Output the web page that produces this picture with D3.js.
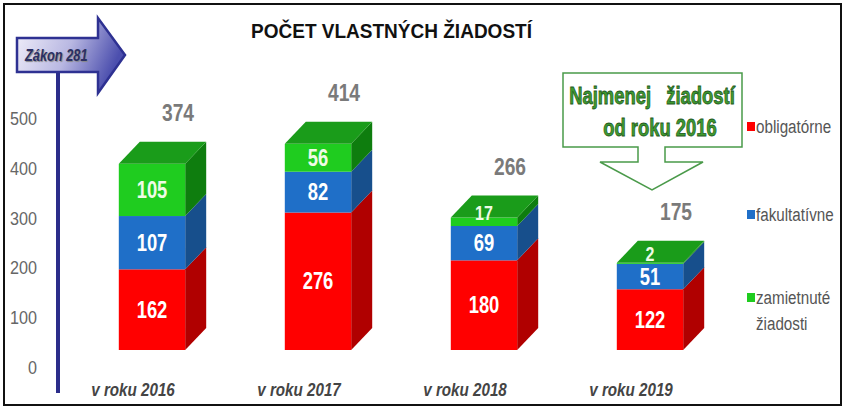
<!DOCTYPE html>
<html>
<head>
<meta charset="utf-8">
<style>
    body { margin: 0; background: #fff; }
    svg { display: block; }
    text { font-family: 'Liberation Sans', Arial, sans-serif; }
</style>
</head>
<body>
<svg id="chart" width="844" height="409"></svg>
<script src="https://d3js.org/d3.v7.min.js"></script>
<script>
    let years = ["v roku 2016", "v roku 2017", "v roku 2018", "v roku 2019"]
    let obligatorne = [162, 276, 180, 122]
    let fakultativne = [107, 82, 69, 51]
    let zamietnute = [105, 56, 17, 2]
    let totals = [374, 414, 266, 175]
    let yTicks = [0, 100, 200, 300, 400, 500]
    let legendNames = ["obligatórne", "fakultatívne", "zamietnuté žiadosti"]

    let width = 844, height = 409
    let svg = d3.select("#chart")

    // front, top, side colours for each series
    let colors = [
        { front: "#ff0000", top: "#e00000", side: "#b00000" },
        { front: "#1f6fc8", top: "#1a5ea8", side: "#174f8c" },
        { front: "#1fcc1f", top: "#1a9c1a", side: "#0e7d0e" }
    ]
    let series = [obligatorne, fakultativne, zamietnute]

    let y = d3.scaleLinear().domain([0, 500]).range([367, 118])
    let x = d3.scaleBand().domain(years).range([69, 733]).paddingInner(0.6).paddingOuter(0.3)
    let lift = 17          // bars sit above the axis zero
    let dx = 21, dy = 22   // 3d depth
    let squeeze = 0.8      // no narrow font installed, so squash horizontally

    // condensed text helper
    function narrow(g, tx, ty, s, sq) {
        return g.append("text")
            .attr("transform", `translate(${tx},${ty}) scale(${sq || squeeze},1)`)
            .text(s)
    }

    // frame
    svg.append("rect")
        .attr("x", 4).attr("y", 4).attr("width", 837).attr("height", 401)
        .attr("fill", "none").attr("stroke", "#111").attr("stroke-width", 2)

    // title
    svg.append("text")
        .attr("x", 251).attr("y", 38)
        .attr("font-weight", "bold").attr("font-size", 21)
        .attr("textLength", 281).attr("lengthAdjust", "spacingAndGlyphs")
        .attr("fill", "#111")
        .text("POČET VLASTNÝCH ŽIADOSTÍ")

    // y axis labels
    yTicks.forEach(d => {
        narrow(svg, 37, y(d) + 7, d, 0.85)
            .attr("text-anchor", "end")
            .attr("font-size", 19).attr("fill", "#666")
    })

    // vertical line from Zákon arrow
    svg.append("line")
        .attr("x1", 58).attr("x2", 58).attr("y1", 70).attr("y2", 393)
        .attr("stroke", "#2b2d8a").attr("stroke-width", 4)

    // Zákon 281 arrow
    let grad = svg.append("defs").append("linearGradient")
        .attr("id", "arrowGrad").attr("x1", "0%").attr("x2", "100%").attr("y1", "0%").attr("y2", "30%")
    grad.append("stop").attr("offset", "0%").attr("stop-color", "#f4f2fb")
    grad.append("stop").attr("offset", "55%").attr("stop-color", "#b9b8e2")
    grad.append("stop").attr("offset", "100%").attr("stop-color", "#4c4fae")
    svg.append("path")
        .attr("d", "M17,38 L98,38 L98,18 L125,55 L98,93 L98,72 L17,72 Z")
        .attr("fill", "url(#arrowGrad)").attr("stroke", "#2e3192").attr("stroke-width", 2.5)
    narrow(svg, 25, 61, "Zákon 281")
        .attr("font-style", "italic").attr("font-weight", "bold").attr("font-size", 16)
        .attr("fill", "#2b2f63")
        .style("text-shadow", "1px 1px 1px #888")

    // stacked 3d bars
    let bars = svg.append("g")
    years.forEach((yr, i) => {
        let x0 = x(yr), w = x.bandwidth()
        let base = 0
        series.forEach((s, k) => {
            let v = s[i]
            let yb = y(base) - lift, yt = y(base + v) - lift
            let c = colors[k]
            // side
            bars.append("path")
                .attr("d", `M${x0 + w},${yb} L${x0 + w + dx},${yb - dy} L${x0 + w + dx},${yt - dy} L${x0 + w},${yt} Z`)
                .attr("fill", c.side)
            // front
            bars.append("rect")
                .attr("x", x0).attr("y", yt).attr("width", w).attr("height", yb - yt)
                .attr("fill", c.front)
            base += v
        })
        // top face
        let yt = y(base) - lift
        bars.append("path")
            .attr("d", `M${x0},${yt} L${x0 + dx},${yt - dy} L${x0 + w + dx},${yt - dy} L${x0 + w},${yt} Z`)
            .attr("fill", colors[2].top)
    })

    // segment labels and totals
    years.forEach((yr, i) => {
        let cx = x(yr) + x.bandwidth() / 2
        let base = 0
        series.forEach((s, k) => {
            let v = s[i]
            let yb = y(base) - lift, yt = y(base + v) - lift
            let cy = (yb + yt) / 2
            let small = yb - yt < 20
            if (small) cy = Math.min(cy - 10, yt - 5)
            narrow(svg, cx, cy + 8, v)
                .attr("text-anchor", "middle")
                .attr("font-weight", "bold").attr("font-size", small ? 20 : 23)
                .attr("fill", k == 2 ? "#eefbe6" : "#fff")
            base += v
        })
        narrow(svg, cx + dx + 5, y(totals[i]) - lift - dy - 21, totals[i])
            .attr("text-anchor", "middle")
            .attr("font-weight", "bold").attr("font-size", 24)
            .attr("fill", "#7a7a7a")
    })

    // x labels
    years.forEach(d => {
        narrow(svg, x(d) + x.bandwidth() / 2 - 19, 396, d)
            .attr("text-anchor", "middle")
            .attr("font-style", "italic").attr("font-weight", "bold").attr("font-size", 19)
            .attr("fill", "#444")
    })

    // callout arrow
    svg.append("path")
        .attr("d", "M563,73 L742,73 L742,147 L665,147 L665,162 L703,162 L652,190 L600,162 L638,162 L638,147 L563,147 Z")
        .attr("fill", "#fff").attr("stroke", "#4a9a4a").attr("stroke-width", 1.5)
    let callout = ["Najmenej   žiadostí", "od roku 2016"]
    callout.forEach((d, i) => {
        narrow(svg, i == 0 ? 652 : 660, 104 + i * 32, d)
            .attr("text-anchor", "middle")
            .attr("font-weight", "bold").attr("font-size", 23)
            .attr("fill", "#3f9a2f").attr("stroke", "#1f5a1f").attr("stroke-width", 0.8)
            .style("white-space", "pre")
    })

    // legend
    let legY = [127, 215, 298]
    legendNames.forEach((n, k) => {
        svg.append("rect")
            .attr("x", 747).attr("y", legY[k] - 5).attr("width", 8).attr("height", 9)
            .attr("fill", colors[k].front)
        let parts = k == 2 ? ["zamietnuté", "žiadosti"] : [n]
        parts.forEach((p, j) => {
            narrow(svg, 756, legY[k] + 6 + j * 26, p)
                .attr("font-size", 19).attr("fill", "#555")
        })
    })
</script>
</body>
</html>
